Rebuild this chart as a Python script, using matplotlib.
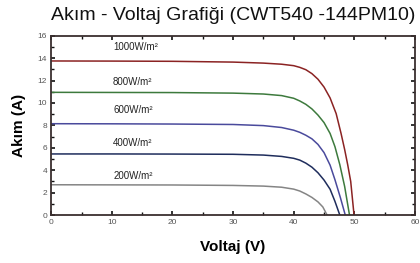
import matplotlib
matplotlib.use("Agg")
import matplotlib.pyplot as plt
from matplotlib.ticker import MultipleLocator

plt.rcParams['font.family'] = ['Liberation Sans', 'DejaVu Sans']

# I-V points (V, A)
v_1000 = [0, 10, 20, 30, 35, 38, 40, 41, 42, 43, 44, 45, 46, 47, 47.8, 48.4, 48.9, 49.4, 49.95]
i_1000 = [13.75, 13.74, 13.72, 13.65, 13.56, 13.46, 13.33, 13.18, 12.97, 12.62, 12.12, 11.42, 10.45, 9.05, 7.3, 5.85, 4.5, 3.0, 0]

v_800 = [0, 10, 20, 30, 35, 38, 40, 41, 42, 43, 44, 45, 46, 46.8, 47.6, 48.4, 49.2]
i_800 = [10.95, 10.94, 10.93, 10.88, 10.8, 10.66, 10.42, 10.18, 9.88, 9.47, 8.92, 8.25, 7.28, 6.1, 4.5, 2.55, 0]

v_600 = [0, 10, 20, 30, 35, 38, 40, 41, 42, 43, 44, 45, 46, 46.8, 47.7, 48.5]
i_600 = [8.15, 8.14, 8.12, 8.08, 7.98, 7.81, 7.57, 7.38, 7.12, 6.8, 6.3, 5.57, 4.45, 3.15, 1.55, 0]

v_400 = [0, 10, 20, 30, 35, 38, 40, 41, 42, 43, 44, 45, 46, 46.8, 47.6]
i_400 = [5.45, 5.45, 5.44, 5.42, 5.35, 5.23, 5.06, 4.9, 4.63, 4.27, 3.77, 3.12, 2.3, 1.22, 0]

v_200 = [0, 10, 20, 30, 35, 38, 40, 41, 42, 43, 44, 44.8, 45.5]
i_200 = [2.7, 2.69, 2.68, 2.64, 2.58, 2.48, 2.31, 2.14, 1.88, 1.57, 1.17, 0.72, 0]

labels = ['1000W/m²', '800W/m²', '600W/m²', '400W/m²', '200W/m²']
label_y = [15.0, 11.9, 9.4, 6.45, 3.45]
colors = ['#8b2323', '#3d7a3d', '#4a4a9c', '#1f2d5c', '#858585']

fig = plt.figure(figsize=(4.2, 2.63), dpi=100)
ax = fig.add_axes([0.122, 0.1825, 0.866, 0.6815])

series = [(v_1000, i_1000), (v_800, i_800), (v_600, i_600), (v_400, i_400), (v_200, i_200)]
for (v, i), c in zip(series, colors):
    ax.plot(v, i, color=c, lw=1.1)

for lab, y in zip(labels, label_y):
    ax.text(10.2, y, lab, fontsize=7, color='#222222', va='center', ha='left')

ax.set_xlim(0, 60)
ax.set_ylim(0, 16)
ax.xaxis.set_major_locator(MultipleLocator(10))
ax.xaxis.set_minor_locator(MultipleLocator(5))
ax.yaxis.set_major_locator(MultipleLocator(2))
ax.yaxis.set_minor_locator(MultipleLocator(1))
ax.tick_params(which='both', direction='in', top=True, right=True,
               color='#111111', labelsize=6, labelcolor='#555555', pad=3)
ax.tick_params(which='major', length=3, width=1.2)
ax.tick_params(which='minor', length=2, width=1.0)
for s in ax.spines.values():
    s.set_color('#3a2f2f')
    s.set_linewidth(1.3)

ax.set_title('Akım - Voltaj Grafiği (CWT540 -144PM10)', fontsize=14, pad=11, color='#111111')
ax.set_xlabel('Voltaj (V)', fontsize=11, fontweight='bold', labelpad=10)
ax.set_ylabel('Akım (A)', fontsize=11, fontweight='bold', labelpad=8)

fig.savefig('out.png', dpi=100)
